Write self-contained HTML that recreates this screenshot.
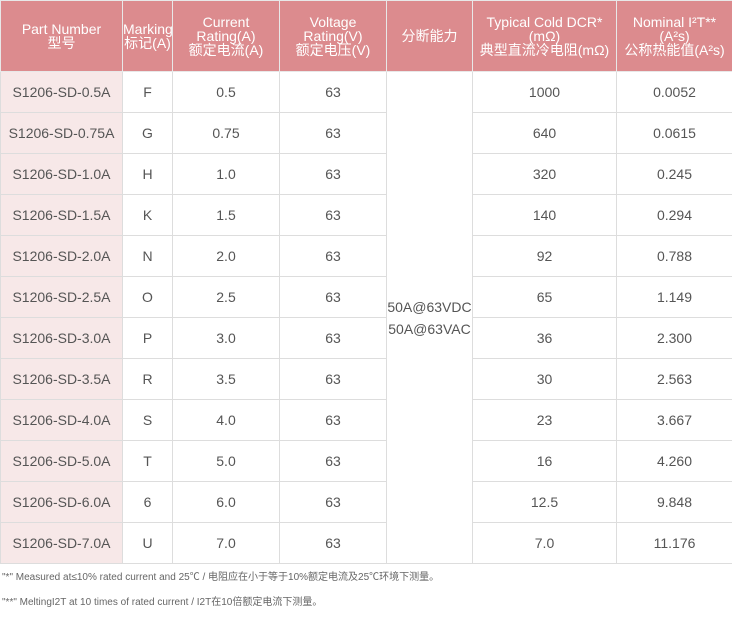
<!DOCTYPE html>
<html><head><meta charset="utf-8"><style>
body{margin:0;background:#fff;font-family:"Liberation Sans","Noto Sans CJK SC",sans-serif;color:#555;}
table{position:absolute;left:0;top:0;border-collapse:collapse;table-layout:fixed;width:732px;}
td,th{border:1px solid #ddd;text-align:center;font-size:14px;padding:0;}
th{background:#dc8b8e;color:#fff;font-weight:normal;height:70px;line-height:14px;border-color:#e8e8e8;}
td{height:40px;}
td.p{background:#f7e8e8;}
.n{position:absolute;left:2px;font-size:10px;color:#666;}
</style></head><body>
<table>
<colgroup><col style="width:122px"><col style="width:50px"><col style="width:107px"><col style="width:107px"><col style="width:86px"><col style="width:144px"><col style="width:116px"></colgroup>
<tr><th>Part Number<br>型号</th><th>Marking<br>标记(A)</th><th>Current<br>Rating(A)<br>额定电流(A)</th><th>Voltage<br>Rating(V)<br>额定电压(V)</th><th>分断能力</th><th>Typical Cold DCR*<br>(mΩ)<br>典型直流冷电阻(mΩ)</th><th>Nominal I²T**<br>(A²s)<br>公称热能值(A²s)</th></tr>
<tr><td class="p">S1206-SD-0.5A</td><td>F</td><td>0.5</td><td>63</td><td rowspan="12" style="line-height:22px">50A@63VDC<br>50A@63VAC</td><td>1000</td><td>0.0052</td></tr>
<tr><td class="p">S1206-SD-0.75A</td><td>G</td><td>0.75</td><td>63</td><td>640</td><td>0.0615</td></tr>
<tr><td class="p">S1206-SD-1.0A</td><td>H</td><td>1.0</td><td>63</td><td>320</td><td>0.245</td></tr>
<tr><td class="p">S1206-SD-1.5A</td><td>K</td><td>1.5</td><td>63</td><td>140</td><td>0.294</td></tr>
<tr><td class="p">S1206-SD-2.0A</td><td>N</td><td>2.0</td><td>63</td><td>92</td><td>0.788</td></tr>
<tr><td class="p">S1206-SD-2.5A</td><td>O</td><td>2.5</td><td>63</td><td>65</td><td>1.149</td></tr>
<tr><td class="p">S1206-SD-3.0A</td><td>P</td><td>3.0</td><td>63</td><td>36</td><td>2.300</td></tr>
<tr><td class="p">S1206-SD-3.5A</td><td>R</td><td>3.5</td><td>63</td><td>30</td><td>2.563</td></tr>
<tr><td class="p">S1206-SD-4.0A</td><td>S</td><td>4.0</td><td>63</td><td>23</td><td>3.667</td></tr>
<tr><td class="p">S1206-SD-5.0A</td><td>T</td><td>5.0</td><td>63</td><td>16</td><td>4.260</td></tr>
<tr><td class="p">S1206-SD-6.0A</td><td>6</td><td>6.0</td><td>63</td><td>12.5</td><td>9.848</td></tr>
<tr><td class="p">S1206-SD-7.0A</td><td>U</td><td>7.0</td><td>63</td><td>7.0</td><td>11.176</td></tr>
</table>
<div class="n" style="top:568px">"*" Measured at≤10% rated current and 25℃ / 电阻应在小于等于10%额定电流及25℃环境下测量。</div>
<div class="n" style="top:593px">"**" MeltingI2T at 10 times of rated current / I2T在10倍额定电流下测量。</div>
</body></html>
